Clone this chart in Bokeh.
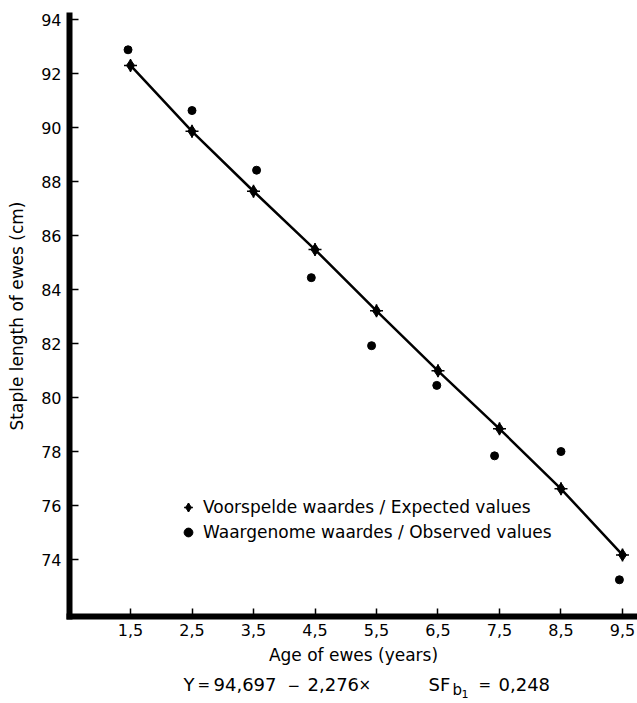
from bokeh.plotting import figure
from bokeh.layouts import column
from bokeh.models import (Range1d, FixedTicker, CustomJSTickFormatter, Legend,
                          LegendItem)
from bokeh.core.properties import value
from bokeh.embed import file_html
from bokeh.resources import INLINE

# ---- data ----
age_ticks = [1.5, 2.5, 3.5, 4.5, 5.5, 6.5, 7.5, 8.5, 9.5]
length_ticks = [74, 76, 78, 80, 82, 84, 86, 88, 90, 92, 94]

expected_age = [1.5, 2.5, 3.5, 4.5, 5.5, 6.5, 7.5, 8.5, 9.5]
expected_len = [92.3, 89.86, 87.64, 85.48, 83.21, 80.99, 78.84, 76.62, 74.17]

observed_age = [1.46, 2.5, 3.55, 4.44, 5.42, 6.48, 7.42, 8.5, 9.45]
observed_len = [92.88, 90.63, 88.42, 84.44, 81.92, 80.45, 77.84, 78.0, 73.25]

legend_labels = ["Voorspelde waardes / Expected values",
                 "Waargenome waardes / Observed values"]
x_title = "Age of ewes (years)"
y_title = "Staple length of ewes (cm)"

# regression formula pieces
formula_words = ["Y", "94,697", "2,276", "SF", "0,248"]
formula_signs = ["=", "\u2212", "\u00d7", "="]
formula_sub = ["b"]
formula_subsub = ["1"]

FONT = "DejaVu Sans"

p = figure(width=637, height=673, output_backend="svg", toolbar_location=None,
           x_range=Range1d(0.508, 9.744), y_range=Range1d(71.89, 94.15),
           min_border_left=69, min_border_right=0, min_border_top=15,
           min_border_bottom=57)
p.outline_line_color = None
p.xgrid.visible = False
p.ygrid.visible = False
p.background_fill_color = "white"
p.border_fill_color = "white"

for ax in (p.xaxis[0], p.yaxis[0]):
    ax.axis_line_width = 6
    ax.axis_line_color = "black"
    ax.axis_line_cap = "square"
    ax.major_tick_out = 0
    ax.minor_tick_line_color = None
    ax.major_tick_line_width = 1.5
    ax.major_tick_line_color = "black"
    ax.major_label_text_font = FONT
    ax.major_label_text_font_size = "16px"
    ax.major_label_text_color = "black"
    ax.axis_label_text_font = FONT
    ax.axis_label_text_font_size = "17px"
    ax.axis_label_text_font_style = "normal"
    ax.axis_label_text_color = "black"

p.xaxis.ticker = FixedTicker(ticks=age_ticks)
p.xaxis.formatter = CustomJSTickFormatter(code="return tick.toFixed(1).replace('.', ',');")
p.xaxis.major_tick_in = 8
p.xaxis.major_label_standoff = 7
p.xaxis.axis_label = x_title
p.xaxis.axis_label_standoff = 6

p.yaxis.ticker = FixedTicker(ticks=length_ticks)
p.yaxis.major_tick_in = 9
p.yaxis.major_label_standoff = 8
p.yaxis.axis_label = y_title
p.yaxis.axis_label_standoff = 11

# regression line through expected values
p.line(expected_age, expected_len, line_color="black", line_width=2.5)
dia = p.scatter(expected_age, expected_len, marker="diamond", size=12,
                fill_color="black", line_color="black")
crs = p.scatter(expected_age, expected_len, marker="cross", size=13,
                line_color="black", line_width=1.5)
obs = p.scatter(observed_age, observed_len, marker="circle", size=8,
                fill_color="black", line_color="black")

legend = Legend(items=[LegendItem(label=legend_labels[0], renderers=[dia, crs]),
                       LegendItem(label=legend_labels[1], renderers=[obs])],
                location=(107, 73), padding=0, margin=0, spacing=3,
                glyph_width=24, glyph_height=22, label_height=22,
                label_standoff=3, border_line_color=None,
                background_fill_alpha=0,
                label_text_font=FONT, label_text_font_size="17px",
                label_text_color="black")
p.add_layout(legend, "center")

# ---- formula strip below the chart (x range in page pixels) ----
f = figure(width=637, height=30, output_backend="svg", toolbar_location=None,
           x_range=Range1d(69, 637), y_range=Range1d(30, 0),
           min_border_left=69, min_border_right=0, min_border_top=0,
           min_border_bottom=0, x_axis_type=None, y_axis_type=None)
f.outline_line_color = None
f.xgrid.visible = False
f.ygrid.visible = False
f.background_fill_color = "white"
f.border_fill_color = "white"

f.text(x=[183, 213, 307, 428, 498], y=[11] * 5, text=formula_words,
       text_font=value(FONT), text_font_size="18px", text_color="black",
       text_baseline="middle", text_align="left")
f.text(x=[197, 287, 358, 478], y=[11] * 4, text=formula_signs,
       text_font=value(FONT), text_font_size="15px", text_color="black",
       text_baseline="middle", text_align="left")
f.text(x=[452], y=[16], text=formula_sub, text_font=value(FONT),
       text_font_size="15px", text_color="black",
       text_baseline="middle", text_align="left")
f.text(x=[461], y=[20], text=formula_subsub, text_font=value(FONT),
       text_font_size="11px", text_color="black",
       text_baseline="middle", text_align="left")

layout = column(p, f, spacing=0)
open("out.html", "w").write(file_html(layout, INLINE))
